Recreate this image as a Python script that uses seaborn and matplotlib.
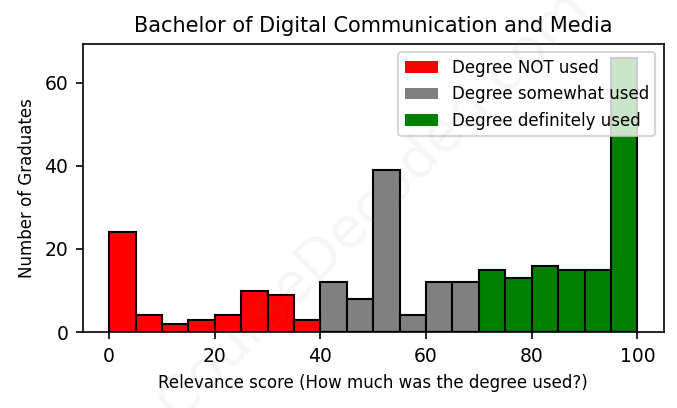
import pandas as pd
import matplotlib
matplotlib.use("Agg")
import matplotlib.pyplot as plt
import seaborn as sns
from matplotlib.patches import Patch

# histogram bins (relevance score), width 5
bin_starts = list(range(0, 100, 5))
counts = [24, 4, 2, 3, 4, 10, 9, 3,
          12, 8, 39, 4, 12, 12,
          15, 13, 16, 15, 15, 66]
groups = ["Degree NOT used"] * 8 + ["Degree somewhat used"] * 6 + ["Degree definitely used"] * 6
palette = {"Degree NOT used": "red",
           "Degree somewhat used": "grey",
           "Degree definitely used": "green"}

df = pd.DataFrame({"score": [s + 2.5 for s in bin_starts],
                   "count": counts,
                   "group": groups})
edges = [float(e) for e in range(0, 105, 5)]

fig, ax = plt.subplots(figsize=(4.52, 2.72), dpi=150)
sns.histplot(data=df, x="score", weights="count", hue="group", bins=edges,
             palette=palette, multiple="layer", alpha=1, edgecolor="black",
             linewidth=1.0, legend=False, ax=ax)

ax.margins(x=0.05, y=0.05)
ax.set_title("Bachelor of Digital Communication and Media", fontsize=10)
ax.set_xlabel("Relevance score (How much was the degree used?)", fontsize=8)
ax.set_ylabel("Number of Graduates", fontsize=8)
ax.tick_params(labelsize=9)
ax.set_xticks([0, 20, 40, 60, 80, 100])
ax.set_yticks([0, 20, 40, 60])

handles = [Patch(facecolor=palette[g], label=g) for g in palette]
ax.legend(handles=handles, loc="upper right", fontsize=8)

# faint watermark
fig.text(0.55, 0.5, "CourseDecoded.com", fontsize=27, color="grey", alpha=0.07,
         rotation=45, ha="center", va="center")

fig.subplots_adjust(left=0.122, right=0.979, top=0.892, bottom=0.186)
fig.savefig("out.png", dpi=150)
